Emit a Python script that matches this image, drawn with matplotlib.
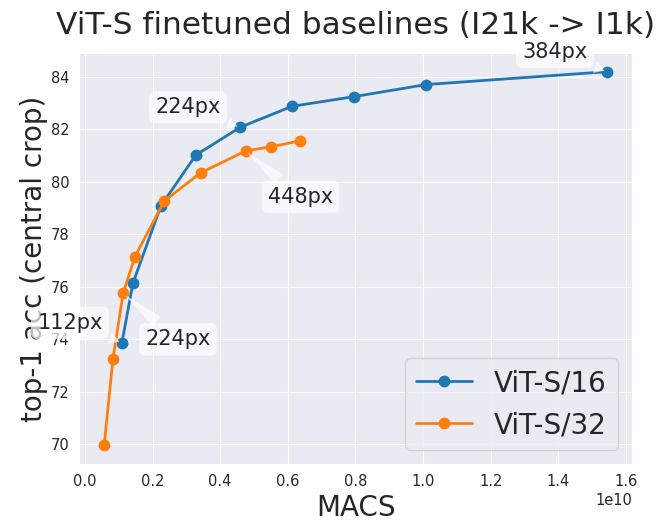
import matplotlib

matplotlib.use("Agg")
import matplotlib.pyplot as plt
import seaborn as sns

sns.set_style("darkgrid")

# ViT-S/16 at increasing input resolution
s16_macs = [0.1095e10, 0.142e10, 0.225e10, 0.328e10, 0.459e10, 0.612e10, 0.796e10, 1.009e10, 1.544e10]
s16_acc = [73.86, 76.13, 79.08, 81.01, 82.07, 82.87, 83.24, 83.70, 84.19]

# ViT-S/32 at increasing input resolution
s32_macs = [0.057e10, 0.083e10, 0.113e10, 0.148e10, 0.235e10, 0.343e10, 0.475e10, 0.550e10, 0.635e10]
s32_acc = [69.95, 73.24, 75.74, 77.14, 79.27, 80.34, 81.17, 81.33, 81.55]

# (label, series, point index)
notes = [
    ("112px", "s16", 0),
    ("224px", "s16", 4),
    ("384px", "s16", 8),
    ("224px", "s32", 2),
    ("448px", "s32", 6),
]

fig, ax = plt.subplots(figsize=(6.64, 5.25), dpi=100)
fig.subplots_adjust(left=0.119, right=0.952, top=0.899, bottom=0.116)

ax.plot(s16_macs, s16_acc, "o-", color="#1f77b4", linewidth=2, markersize=7.5, label="ViT-S/16")
ax.plot(s32_macs, s32_acc, "o-", color="#ff7f0e", linewidth=2, markersize=7.5, label="ViT-S/32")

data = {"s16": (s16_macs, s16_acc), "s32": (s32_macs, s32_acc)}
for text, key, i in notes:
    xs, ys = data[key]
    # ViT-S/16 labels sit up-left of the point, ViT-S/32 labels down-right
    off = (-52, 20) if key == "s16" else (55, -46)
    ax.annotate(
        text,
        xy=(xs[i], ys[i]),
        xytext=off,
        textcoords="offset pixels",
        ha="center",
        va="center",
        fontsize=15,
        color="#262626",
        bbox=dict(boxstyle="round,pad=0.3", fc="white", ec="none", alpha=0.7),
        arrowprops=dict(arrowstyle="wedge,tail_width=0.6", fc="white", ec="none", alpha=0.7),
        annotation_clip=False,
    )

ax.set_title("ViT-S finetuned baselines (I21k -> I1k)", fontsize=22.5, color="#262626", pad=14)
ax.set_xlabel("MACS", fontsize=20, color="#262626")
ax.set_ylabel("top-1 acc (central crop)", fontsize=20, color="#262626", labelpad=2)
ax.tick_params(labelsize=10.5, colors="#262626")
ax.xaxis.get_offset_text().set_fontsize(10.5)
ax.legend(loc="lower right", fontsize=20)

plt.savefig("out.png", dpi=100)
plt.close()
